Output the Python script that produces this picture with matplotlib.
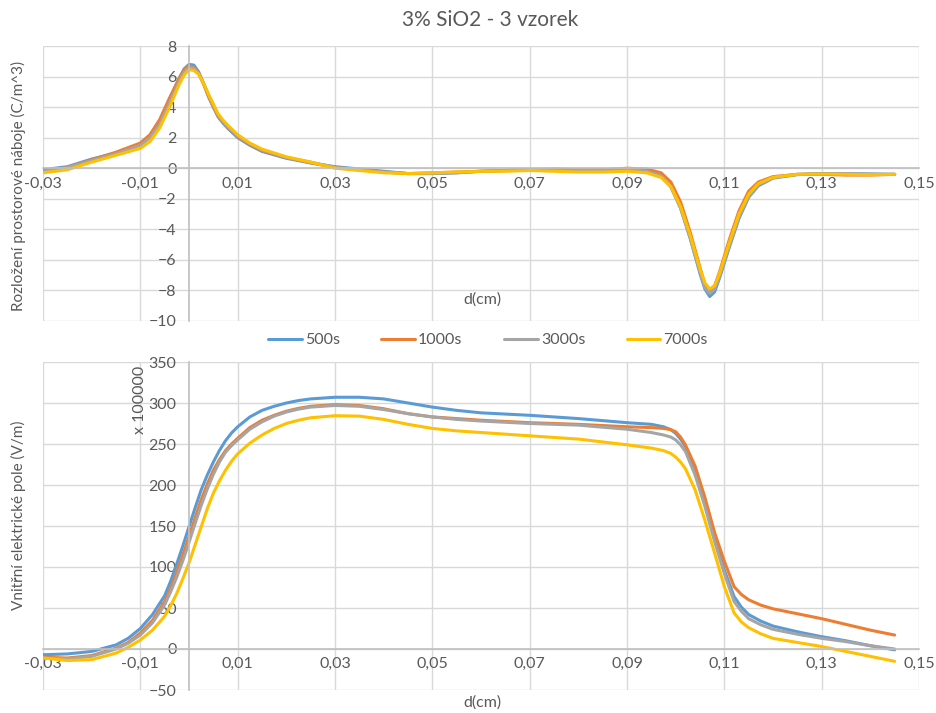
import matplotlib.pyplot as plt
from matplotlib.ticker import FuncFormatter

plt.rcParams['font.family'] = ['Lato', 'DejaVu Sans']

# Data
labels = ["500s", "1000s", "3000s", "7000s"]
colors = ["#5B9BD5", "#ED7D31", "#A5A5A5", "#FFC000"]

# Top: space charge distribution (C/m^3)
x_top = [-0.03, -0.025, -0.02, -0.015, -0.01, -0.008, -0.006, -0.004, -0.002, -0.001,
         0.0, 0.001, 0.002, 0.003, 0.004, 0.005, 0.006, 0.007, 0.008, 0.01,
         0.0125, 0.015, 0.02, 0.025, 0.03, 0.035, 0.04, 0.045, 0.05, 0.055,
         0.06, 0.065, 0.07, 0.075, 0.08, 0.085, 0.09, 0.094, 0.097, 0.099,
         0.101, 0.103, 0.105, 0.106, 0.107, 0.108, 0.109, 0.111, 0.113, 0.115,
         0.117, 0.12, 0.125, 0.13, 0.135, 0.14, 0.145]
rho_500 = [-0.1, 0.1, 0.6, 1.0, 1.55, 2.1, 3.1, 4.5, 5.9, 6.5,
           6.8, 6.75, 6.3, 5.55, 4.7, 4.0, 3.35, 2.95, 2.6, 2.0,
           1.5, 1.1, 0.65, 0.35, 0.1, -0.05, -0.2, -0.35, -0.35, -0.3,
           -0.2, -0.15, -0.1, -0.1, -0.1, -0.1, -0.05, -0.15, -0.5, -1.2,
           -2.6, -4.6, -6.9, -7.9, -8.4, -8.1, -7.2, -5.2, -3.3, -1.9,
           -1.15, -0.65, -0.42, -0.35, -0.35, -0.38, -0.4]
rho_1000 = [-0.2, 0.05, 0.55, 1.05, 1.65, 2.2, 3.2, 4.6, 5.9, 6.45,
            6.7, 6.6, 6.2, 5.5, 4.7, 4.0, 3.4, 3.0, 2.65, 2.05,
            1.55, 1.15, 0.7, 0.35, 0.05, -0.1, -0.25, -0.35, -0.3, -0.25,
            -0.2, -0.15, -0.1, -0.05, -0.1, -0.1, 0.0, -0.05, -0.3, -0.9,
            -2.2, -4.2, -6.5, -7.6, -8.0, -7.7, -6.8, -4.7, -2.8, -1.5,
            -0.9, -0.55, -0.4, -0.4, -0.45, -0.45, -0.4]
rho_3000 = [-0.2, 0.05, 0.5, 0.95, 1.5, 2.0, 2.9, 4.3, 5.7, 6.3,
            6.6, 6.55, 6.2, 5.55, 4.8, 4.1, 3.45, 3.05, 2.7, 2.1,
            1.6, 1.2, 0.7, 0.4, 0.05, -0.1, -0.25, -0.35, -0.35, -0.3,
            -0.2, -0.15, -0.1, -0.1, -0.15, -0.15, -0.1, -0.2, -0.5, -1.2,
            -2.6, -4.6, -6.8, -7.8, -8.2, -7.9, -7.1, -5.1, -3.2, -1.85,
            -1.1, -0.6, -0.4, -0.35, -0.35, -0.38, -0.4]
rho_7000 = [-0.3, -0.1, 0.4, 0.85, 1.3, 1.75, 2.65, 4.0, 5.5, 6.1,
            6.45, 6.4, 6.15, 5.55, 4.85, 4.2, 3.55, 3.15, 2.8, 2.2,
            1.65, 1.25, 0.75, 0.4, 0.0, -0.15, -0.3, -0.35, -0.3, -0.25,
            -0.2, -0.2, -0.15, -0.2, -0.25, -0.25, -0.2, -0.3, -0.6, -1.2,
            -2.5, -4.4, -6.6, -7.5, -7.9, -7.7, -6.9, -4.9, -3.0, -1.7,
            -1.0, -0.6, -0.4, -0.38, -0.4, -0.42, -0.4]

# Bottom: internal electric field (x 100000 V/m)
x_bot = [-0.03, -0.025, -0.02, -0.015, -0.0125, -0.01, -0.0075, -0.005, -0.00375, -0.0025,
         -0.00125, 0.0, 0.00125, 0.0025, 0.00375, 0.005, 0.00625, 0.0075, 0.00875, 0.01,
         0.0125, 0.015, 0.0175, 0.02, 0.0225, 0.025, 0.03, 0.035, 0.04, 0.045,
         0.05, 0.055, 0.06, 0.07, 0.08, 0.09, 0.095, 0.0975, 0.099, 0.1,
         0.101, 0.102, 0.104, 0.106, 0.108, 0.11, 0.112, 0.1135, 0.115, 0.1175,
         0.12, 0.125, 0.13, 0.135, 0.14, 0.145]
e_500 = [-7, -6, -3, 5, 13, 25, 42, 65, 83, 104,
         126, 149, 172, 194, 212, 228, 242, 254, 263.5, 271,
         283, 291, 296, 300, 303, 305, 307, 307, 305, 300,
         295, 291, 288, 285, 281, 276, 274, 271, 267.5, 263,
         256, 247, 220, 182, 137, 96, 64, 51, 42, 34,
         28, 21, 15, 10, 4, -1]
e_1000 = [-10, -11, -8, 1, 8, 19.5, 35, 58, 74, 94,
          115, 137, 160, 182, 201, 218, 231, 242, 250, 257,
          270, 279, 285, 290, 293.5, 296, 298, 297, 293, 287,
          283, 281, 279, 276, 274, 271, 270, 269, 267.5, 265,
          258.5, 249, 223, 185, 142, 107, 76, 66.5, 60, 53.5,
          49, 43, 37, 30, 23, 17]
e_3000 = [-11, -12, -9, 0, 7, 17, 32, 54, 70, 88,
          108, 130, 153, 175, 195, 213, 228, 240, 248, 255,
          268, 277, 284, 289, 292.5, 295, 297, 296, 292, 287,
          283, 280, 278, 275, 273, 268, 264, 261, 258.5, 255,
          249, 241, 212, 174, 131, 92, 58, 46, 37, 29.5,
          24, 18, 13, 9, 4, 0]
e_7000 = [-11, -14, -13, -5, 2, 11, 23, 40, 53, 68,
          86, 105, 127, 149, 171, 190, 205, 218, 229, 238,
          251, 261, 269, 275, 279, 282, 284.5, 284, 280, 274,
          269, 266, 264, 260, 256, 249, 245, 242, 238.5, 234,
          228, 220, 194, 157, 117, 76, 44, 33, 26, 18.5,
          13, 8, 3, -3, -9, -15]

x_ticks = [-0.03, -0.01, 0.01, 0.03, 0.05, 0.07, 0.09, 0.11, 0.13, 0.15]

txt = "#595959"
fig = plt.figure(figsize=(9.37, 7.13), dpi=100)
ax1 = fig.add_axes([43/937, 1-321/713, 876/937, 275/713])
ax2 = fig.add_axes([43/937, 1-690/713, 876/937, 328/713])

for c, s, lab in zip(colors, [rho_500, rho_1000, rho_3000, rho_7000], labels):
    ax1.plot(x_top, s, color=c, lw=2.2, label=lab, solid_capstyle="round",
             solid_joinstyle="round")
for c, s in zip(colors, [e_500, e_1000, e_3000, e_7000]):
    ax2.plot(x_bot, s, color=c, lw=2.2, solid_capstyle="round", solid_joinstyle="round")

comma = FuncFormatter(lambda v, p: f"{v:.2f}".replace(".", ","))
for ax in (ax1, ax2):
    ax.set_xlim(-0.03, 0.15)
    ax.set_xticks(x_ticks)
    ax.xaxis.set_major_formatter(comma)
    ax.grid(True, color="#D9D9D9", lw=1)
    ax.set_axisbelow(True)
    for sp in ["top", "right"]:
        ax.spines[sp].set_visible(False)
    for sp in ["left", "bottom"]:
        ax.spines[sp].set_position(("data", 0))
        ax.spines[sp].set_color("#BFBFBF")
        ax.spines[sp].set_linewidth(1.2)
    ax.tick_params(length=0, labelsize=11.5, colors=txt)
    ax.tick_params(axis="x", pad=6)
    ax.tick_params(axis="y", pad=9)

ax1.set_ylim(-10, 8)
ax1.set_yticks(range(-10, 9, 2))
ax2.set_ylim(-50, 350)
ax2.set_yticks(range(-50, 351, 50))

fig.text(490/937, 1-20/713, "3% SiO2 - 3 vzorek", ha="center", va="center",
         fontsize=15, color=txt)
fig.text(18/937, 1-186/713, "Rozložení prostorové náboje (C/m^3)", rotation=90,
         ha="center", va="center", fontsize=11, color=txt)
fig.text(18/937, 1-515/713, "Vnitřní elektrické pole (V/m)", rotation=90,
         ha="center", va="center", fontsize=11, color=txt)
fig.text(140/937, 1-400/713, "x 100000", rotation=90,
         ha="center", va="center", fontsize=11.5, color=txt)
fig.text(482/937, 1-300/713, "d(cm)", ha="center", va="center", fontsize=11.5, color=txt)
fig.text(482/937, 1-703/713, "d(cm)", ha="center", va="center", fontsize=11.5, color=txt)

fig.legend(loc="center", bbox_to_anchor=(488/937, 1-340/713), ncol=4, frameon=False,
           fontsize=11.5, handlelength=2.1, columnspacing=2.6, handletextpad=0.2,
           labelcolor=txt)

fig.savefig("out.png", dpi=100, facecolor="white")
